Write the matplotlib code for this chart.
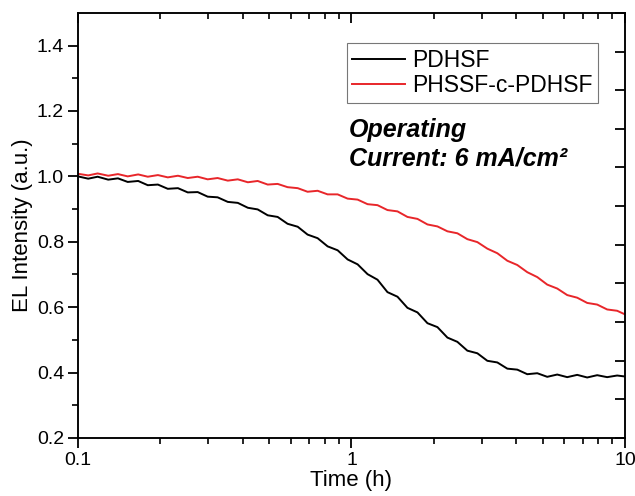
import matplotlib
matplotlib.use('Agg')
import matplotlib.pyplot as plt
from matplotlib.ticker import NullFormatter, FixedLocator

plt.rcParams['font.family'] = ['Liberation Sans', 'DejaVu Sans']
plt.rcParams['xtick.color'] = 'black'
plt.rcParams['xtick.direction'] = 'out'
plt.rcParams['xtick.major.size'] = 7
plt.rcParams['xtick.minor.size'] = 4
plt.rcParams['xtick.major.width'] = 1.3
plt.rcParams['xtick.minor.width'] = 1.2
plt.rcParams['xtick.bottom'] = True

# time axis (h), read at ~10 px steps along the log axis
time_h = [0.100, 0.109, 0.118, 0.129, 0.140, 0.152, 0.166, 0.180, 0.196, 0.213,
          0.232, 0.252, 0.274, 0.298, 0.324, 0.353, 0.384, 0.418, 0.454, 0.494,
          0.537, 0.584, 0.636, 0.691, 0.752, 0.818, 0.890, 0.968, 1.053, 1.145,
          1.245, 1.354, 1.473, 1.602, 1.743, 1.896, 2.062, 2.243, 2.439, 2.653,
          2.886, 3.139, 3.414, 3.714, 4.039, 4.394, 4.779, 5.198, 5.654, 6.150,
          6.689, 7.276, 7.914, 8.608, 9.363, 10.0]

pdhsf = [1.000, 0.993, 0.999, 0.990, 0.994, 0.983, 0.986, 0.973, 0.975, 0.962,
         0.964, 0.951, 0.952, 0.938, 0.936, 0.922, 0.919, 0.904, 0.899, 0.881,
         0.876, 0.855, 0.846, 0.822, 0.811, 0.786, 0.774, 0.746, 0.731, 0.701,
         0.684, 0.646, 0.632, 0.598, 0.584, 0.551, 0.539, 0.507, 0.494, 0.467,
         0.459, 0.436, 0.431, 0.412, 0.409, 0.395, 0.398, 0.387, 0.394, 0.386,
         0.393, 0.385, 0.392, 0.386, 0.391, 0.388]

phssf = [1.008, 1.003, 1.009, 1.002, 1.007, 1.000, 1.006, 0.999, 1.004, 0.997,
         1.002, 0.995, 0.999, 0.991, 0.995, 0.987, 0.991, 0.982, 0.986, 0.975,
         0.977, 0.967, 0.964, 0.953, 0.956, 0.945, 0.945, 0.932, 0.929, 0.915,
         0.912, 0.897, 0.893, 0.876, 0.870, 0.853, 0.847, 0.832, 0.826, 0.808,
         0.799, 0.779, 0.765, 0.742, 0.729, 0.707, 0.692, 0.669, 0.657, 0.637,
         0.629, 0.613, 0.608, 0.593, 0.589, 0.578]

labels = ['PDHSF', 'PHSSF-c-PDHSF']
colors = ['black', '#e8262a']

x_major = [0.1, 1, 10]
x_minor = [0.2, 0.3, 0.4, 0.5, 0.6, 0.7, 0.8, 0.9, 2, 3, 4, 5, 6, 7, 8, 9]

rect = [0.1228, 0.117, 0.8614, 0.857]
fig = plt.figure(figsize=(6.35, 4.96), dpi=100)
ax = fig.add_axes(rect)

ax.plot(time_h, pdhsf, color=colors[0], lw=1.4, label=labels[0])
ax.plot(time_h, phssf, color=colors[1], lw=1.4, label=labels[1])

ax.set_xscale('log')
ax.set_xlim(0.1, 10)
ax.set_ylim(0.2, 1.5)
ax.xaxis.set_major_locator(FixedLocator(x_major))
ax.xaxis.set_minor_locator(FixedLocator(x_minor))
ax.xaxis.set_minor_formatter(NullFormatter())
ax.set_xticklabels(['0.1', '1', '10'])
ax.set_yticks([0.2, 0.4, 0.6, 0.8, 1.0, 1.2, 1.4])
ax.set_yticks([0.3, 0.5, 0.7, 0.9, 1.1, 1.3], minor=True)

for s in ax.spines.values():
    s.set_linewidth(1.1)

ax.tick_params(axis='y', which='major', direction='out', length=7, width=1.3,
               color='black', labelsize=14, pad=3)
ax.tick_params(axis='y', which='minor', direction='out', length=4, width=1.2,
               color='black')
ax.xaxis.set_tick_params(which='major', direction='out', length=7, width=1.3,
                         color='black', bottom=True, top=False,
                         labelsize=14, pad=3)
ax.xaxis.set_tick_params(which='minor', direction='out', length=4, width=1.2,
                         color='black', bottom=True, top=False)
for t in ax.xaxis.get_major_ticks() + ax.xaxis.get_minor_ticks():
    t.tick1line.set_visible(True)
    t.tick1line.set_color('black')

# overlay axes (not shared) for the inward top and right ticks
ov = fig.add_axes(rect)
ov.patch.set_visible(False)
ov.set_xscale('log')
ov.set_xlim(0.1, 10)
ov.set_ylim(0, 11)
ov.xaxis.set_major_locator(FixedLocator(x_major))
ov.xaxis.set_minor_locator(FixedLocator(x_minor))
ov.xaxis.set_minor_formatter(NullFormatter())
ov.yaxis.set_major_locator(FixedLocator(list(range(12))))
ov.xaxis.set_tick_params(which='both', direction='in', top=True, bottom=False,
                         labelbottom=False, color='black')
ov.xaxis.set_tick_params(which='major', length=7, width=1.3)
ov.xaxis.set_tick_params(which='minor', length=4, width=1.2)
ov.yaxis.set_tick_params(which='major', direction='in', right=True, left=False,
                         labelleft=False, length=7, width=1.3, color='black')
ov.yaxis.set_tick_params(which='minor', left=False, right=False)
for s in ov.spines.values():
    s.set_linewidth(1.1)

ax.set_xlabel('Time (h)', fontsize=16, labelpad=1)
ax.set_ylabel('EL Intensity (a.u.)', fontsize=16, labelpad=3)

leg = ax.legend(loc='upper right', bbox_to_anchor=(0.951, 0.929),
                borderaxespad=0, fontsize=16.5, frameon=True, fancybox=False,
                handlelength=2.3, handletextpad=0.3, labelspacing=0.1,
                borderpad=0.25)
leg.get_frame().set_edgecolor('#555555')
leg.get_frame().set_linewidth(0.8)

ax.text(0.495, 0.708, 'Operating', transform=ax.transAxes, fontsize=18,
        fontweight='bold', fontstyle='italic', va='baseline')
ax.text(0.495, 0.640, 'Current: 6 mA/cm\u00b2', transform=ax.transAxes,
        fontsize=18, fontweight='bold', fontstyle='italic', va='baseline')

fig.savefig('out.png', dpi=100)
